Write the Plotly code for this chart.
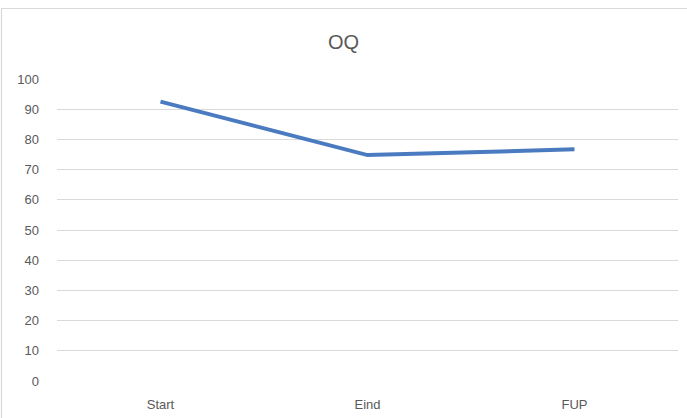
import plotly.graph_objects as go

# OQ scores per measurement moment
categories = ["Start", "Eind", "FUP"]
oq_values = [92.5, 74.8, 76.7]
y_ticks = list(range(0, 101, 10))

W, H = 687, 418
L, R, T, B = 57, 9, 79, 37
plot_w = W - L - R
plot_h = H - T - B

text_color = "#595959"
grid_color = "#d9d9d9"
font_family = "Liberation Sans, Arial, sans-serif"

fig = go.Figure()
fig.add_trace(go.Scatter(
    x=categories,
    y=oq_values,
    mode="lines",
    line=dict(color="#4a7bc0", width=4),
    hoverinfo="x+y",
))

# chart-area border (left and top edges visible inside the window)
fig.add_shape(
    type="rect", xref="paper", yref="paper",
    x0=(1.5 - L) / plot_w, x1=(W + 20 - L) / plot_w,
    y0=-(B + 20) / plot_h, y1=(H - B - 8.5) / plot_h,
    line=dict(color=grid_color, width=1.2),
    layer="below",
)

fig.update_layout(
    width=W, height=H,
    margin=dict(l=L, r=R, t=T, b=B, pad=0, autoexpand=False),
    paper_bgcolor="white",
    plot_bgcolor="white",
    showlegend=False,
    font=dict(family=font_family, size=13, color=text_color),
    title=dict(
        text="OQ",
        x=0.5, xanchor="center",
        y=1 - 42 / H, yanchor="middle",
        font=dict(family=font_family, size=20, color=text_color),
    ),
    xaxis=dict(
        type="category",
        range=[-0.5, len(categories) - 0.5],
        showgrid=False,
        zeroline=False,
        showline=False,
        ticks="",
        automargin=False,
        ticklabelstandoff=14,
        tickfont=dict(size=13, color=text_color),
        fixedrange=True,
    ),
    yaxis=dict(
        range=[0, 100],
        tickvals=y_ticks,
        showgrid=True,
        gridcolor=grid_color,
        gridwidth=1,
        zeroline=False,
        showline=False,
        ticks="",
        automargin=False,
        ticklabelstandoff=17,
        tickfont=dict(size=13, color=text_color),
        fixedrange=True,
    ),
)

fig.write_html("out.html")
